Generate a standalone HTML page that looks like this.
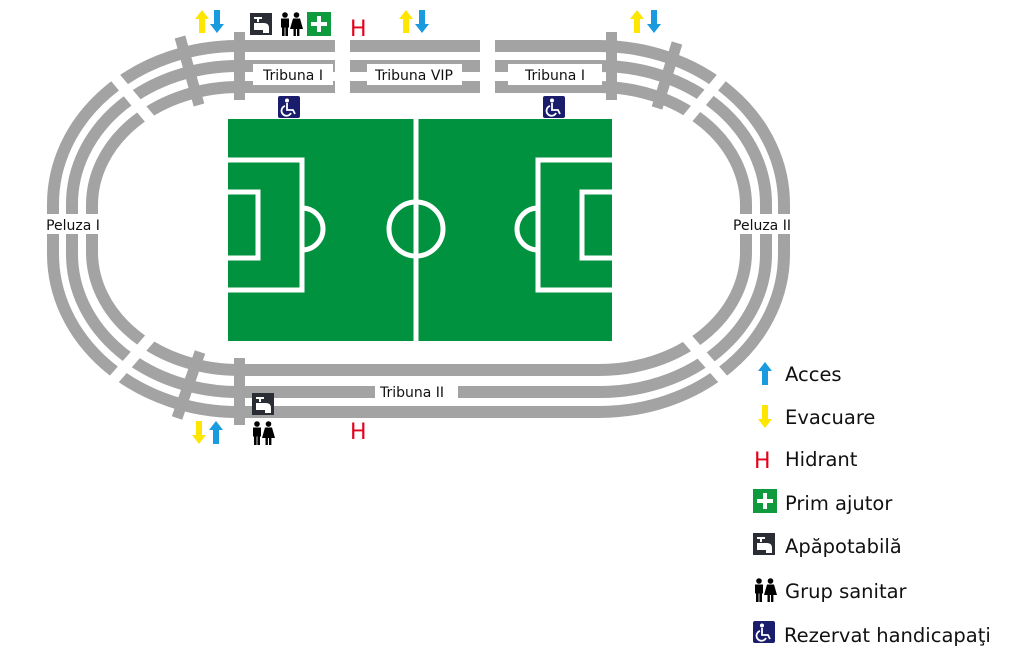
<!DOCTYPE html>
<html><head><meta charset="utf-8"><style>
body{margin:0;background:#fff}
svg{display:block}
text{font-family:"DejaVu Sans","Liberation Sans",sans-serif}
</style></head><body>
<svg width="1024" height="659" viewBox="0 0 1024 659" xmlns="http://www.w3.org/2000/svg">
<defs>
<g id="up"><polygon points="7,0 14,9 10,9 10,23 4,23 4,9 0,9"/></g>
<g id="dn"><polygon points="7,23 14,14 10,14 10,0 4,0 4,14 0,14"/></g>
<g id="tap"><rect width="22" height="22" fill="#2b2d35"/><path d="M4 5h8M8 5v4M5 11h9q4 0 4 4v4h-4v-3h-9z" stroke="#fff" stroke-width="2" fill="#fff"/></g>
<g id="ppl" fill="#000"><circle cx="6" cy="3" r="2.8"/><rect x="2" y="6.5" width="8" height="9"/><rect x="3" y="14" width="2.6" height="10"/><rect x="6.4" y="14" width="2.6" height="10"/><circle cx="17.5" cy="3" r="2.8"/><polygon points="14,6.5 21,6.5 24,17 11,17"/><rect x="14.5" y="16" width="2.4" height="8"/><rect x="18" y="16" width="2.4" height="8"/></g>
<g id="aid"><rect width="24" height="24" fill="#0f9a3e"/><path d="M12 4v16M4 12h16" stroke="#fff" stroke-width="4"/></g>
<g id="wc"><rect width="22" height="22" rx="2" fill="#1a1d6b"/><circle cx="9" cy="4.5" r="2" fill="#fff"/><path d="M9 7v7h6l2 4M7 10a5 5 0 1 0 6 7" stroke="#fff" stroke-width="1.8" fill="none"/></g>
</defs>
<g fill="none" stroke="#a3a3a3" stroke-width="12">
<rect x="53" y="46" width="731" height="366" rx="185" ry="158"/>
<rect x="72" y="66" width="694" height="326" rx="166" ry="138"/>
<rect x="92" y="87" width="654" height="283" rx="147" ry="118"/>
</g>
<g stroke="#fff" stroke-width="11">
<line x1="678" y1="130" x2="743" y2="52"/>
<line x1="159" y1="130" x2="94" y2="52"/>
<line x1="678" y1="328" x2="743" y2="402"/>
<line x1="159" y1="328" x2="94" y2="402"/>
</g>
<rect x="335" y="30" width="15" height="75" fill="#fff"/>
<rect x="480" y="30" width="15" height="75" fill="#fff"/>
<g stroke="#a3a3a3" stroke-width="11">
<line x1="180" y1="37" x2="199" y2="105"/>
<line x1="677" y1="43" x2="657" y2="108"/>
<line x1="200" y1="352" x2="177" y2="418"/>
</g>
<rect x="234" y="32" width="11" height="68" fill="#a3a3a3"/>
<rect x="606" y="32" width="11" height="68" fill="#a3a3a3"/>
<rect x="234" y="358" width="11" height="67" fill="#a3a3a3"/>
<g fill="#fff">
<rect x="253" y="64" width="80" height="21"/><rect x="367" y="64" width="95" height="21"/><rect x="508" y="64" width="94" height="21"/>
<rect x="375" y="381" width="83" height="20"/><rect x="42" y="214" width="62" height="20"/><rect x="728" y="214" width="68" height="20"/>
</g>
<g font-size="14" fill="#111" text-anchor="middle">
<text x="293" y="80">Tribuna I</text><text x="414" y="80">Tribuna VIP</text><text x="555" y="80">Tribuna I</text>
<text x="412" y="397">Tribuna II</text><text x="73" y="230">Peluza I</text><text x="762" y="230">Peluza II</text>
</g>
<rect x="228" y="119" width="384" height="222" fill="#00923f"/>
<g fill="none" stroke="#fff" stroke-width="5">
<line x1="416" y1="119" x2="416" y2="341"/>
<circle cx="416" cy="229" r="27"/>
<path d="M228 160h74v130h-74M228 192h30v66h-30M302 208a21 21 0 0 1 0 42"/>
<path d="M612 160h-74v130h74M612 192h-30v66h30M538 208a21 21 0 0 0 0 42"/>
</g>
<use href="#up" x="195" y="10" fill="#ffe600"/><use href="#dn" x="210" y="10" fill="#1a9be0"/>
<use href="#up" x="399" y="10" fill="#ffe600"/><use href="#dn" x="415" y="10" fill="#1a9be0"/>
<use href="#up" x="630" y="10" fill="#ffe600"/><use href="#dn" x="647" y="10" fill="#1a9be0"/>
<use href="#dn" x="192" y="421" fill="#ffe600"/><use href="#up" x="209" y="421" fill="#1a9be0"/>
<use href="#tap" x="250" y="13"/><use href="#ppl" x="279" y="12"/><use href="#aid" x="307" y="12"/>
<use href="#tap" x="252" y="393"/><use href="#ppl" x="251" y="421"/>
<use href="#wc" x="278" y="96"/><use href="#wc" x="543" y="96"/>
<g fill="#e3001b" font-size="22"><text x="350" y="36">H</text><text x="350" y="439">H</text></g>
<use href="#up" x="758" y="362" fill="#1a9be0"/>
<use href="#dn" x="758" y="405" fill="#ffe600"/>
<text x="754" y="468" font-size="22" fill="#e3001b">H</text>
<use href="#aid" x="753" y="489"/>
<use href="#tap" x="753" y="533"/>
<use href="#ppl" x="753" y="578"/>
<use href="#wc" x="753" y="621"/>
<g font-size="19.5" fill="#111">
<text x="785" y="381">Acces</text><text x="785" y="424">Evacuare</text><text x="785" y="466">Hidrant</text>
<text x="785" y="510">Prim ajutor</text><text x="785" y="553">Apăpotabilă</text><text x="785" y="598">Grup sanitar</text>
<text x="784" y="642">Rezervat handicapaţi</text>
</g>
</svg>
</body></html>
